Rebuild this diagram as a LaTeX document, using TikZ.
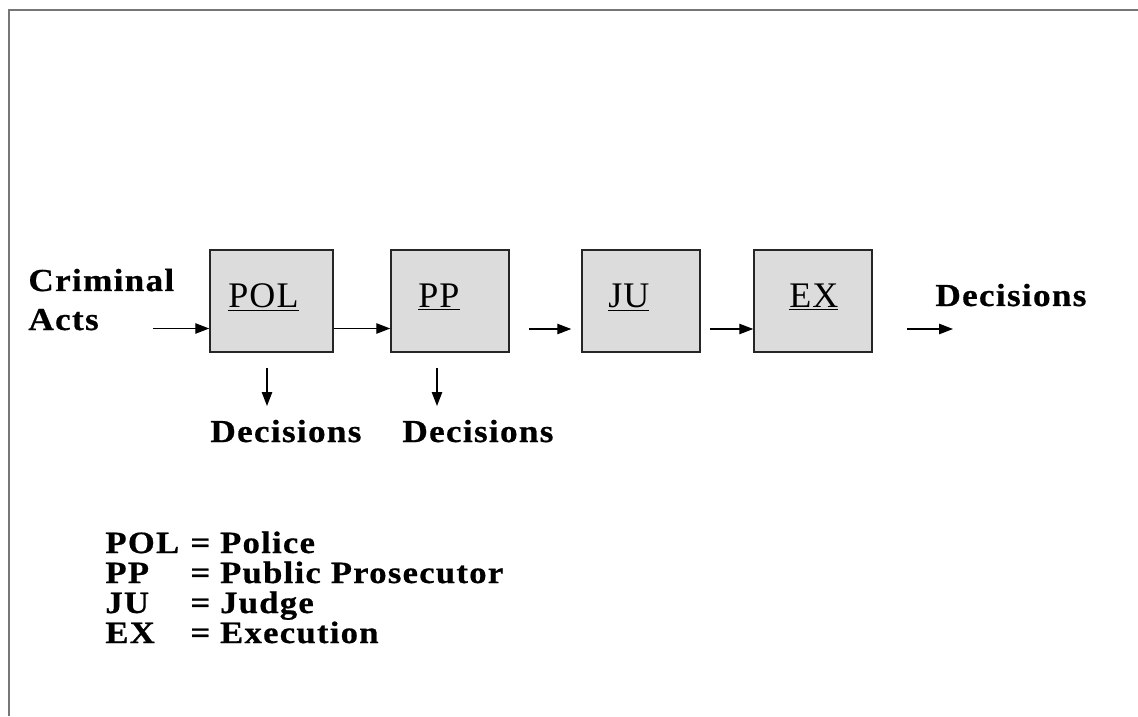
\documentclass[tikz,border=0pt]{standalone}
\usepackage{fontspec}
\setmainfont{Liberation Serif}
\newfontfamily\hdfont[LetterSpace=4,FakeStretch=1.1,FakeBold=0.6]{Liberation Serif}
\newfontfamily\lgfont[LetterSpace=4,FakeStretch=1.12,FakeBold=0.6]{Liberation Serif}
\newfontfamily\bxfont[LetterSpace=3]{Liberation Serif}
\usetikzlibrary{arrows.meta}
\definecolor{boxgray}{HTML}{DCDCDC}
\definecolor{framegray}{HTML}{767676}
\begin{document}
\begin{tikzpicture}[x=0.5pt,y=-0.5pt,
  stagebox/.style={draw=black!85, line width=0.75pt, fill=boxgray, minimum height=51pt, inner sep=0pt},
  boxlabel/.style={anchor=base west, inner sep=0pt, font=\bxfont\fontsize{18}{21}\selectfont},
  headtext/.style={anchor=base west, inner sep=0pt, font=\hdfont\bfseries\fontsize{16}{19}\selectfont},
  legtext/.style={anchor=base west, inner sep=0pt, font=\lgfont\bfseries\fontsize{15.5}{18}\selectfont},
  flow/.style={line width=0.7pt, -{Triangle[length=7pt,width=5.2pt]}}]
\useasboundingbox (0,0) rectangle (1138,716);
% frame
\draw[framegray, line width=1pt] (9,716) -- (9,10.5) -- (1138,10.5);
% boxes
\node[stagebox, minimum width=61.5pt] (pol) at (271.5,301) {};
\node[stagebox, minimum width=59pt] (pp) at (450,301) {};
\node[stagebox, minimum width=59pt] (ju) at (641,301) {};
\node[stagebox, minimum width=59pt] (ex) at (813,301) {};
\node[boxlabel] (polL) at (228,307) {\underline{POL}};
\node[boxlabel] (ppL) at (418,307) {\underline{PP}};
\node[boxlabel] (juL) at (608,307) {\underline{JU}};
\node[boxlabel] (exL) at (789,307) {\underline{EX}};
% texts
\node[headtext] (crim) at (28,291) {Criminal};
\node[headtext] (acts) at (28,330) {Acts};
\node[headtext] (decA) at (210,442) {Decisions};
\node[headtext] (decB) at (402,442) {Decisions};
\node[headtext] (decC) at (935,306) {Decisions};
% connectors
\coordinate (inS) at (153,328.5);
\coordinate (outS) at (907,329);
\coordinate (outE) at (953,329);
\coordinate (dAs) at (267,368);
\coordinate (dAe) at (267,406);
\coordinate (dBs) at (437,368);
\coordinate (dBe) at (437,406);
\draw[flow] (inS) -- (inS -| pol.west);
\draw[flow] (pol.east |- inS) -- (pp.west |- inS);
\draw[flow, shorten <=9.5pt, shorten >=5pt] (pp.east |- outS) -- (ju.west |- outS);
\draw[flow, shorten <=4.5pt] (ju.east |- outS) -- (ex.west |- outS);
\draw[flow] (outS) -- (outE);
\draw[flow] (dAs) -- (dAe);
\draw[flow] (dBs) -- (dBe);
% legend
\node[legtext] (l1a) at (105,553) {POL};
\node[legtext] (l1b) at (190,553) {= Police};
\node[legtext] (l2a) at (105,583) {PP};
\node[legtext] (l2b) at (190,583) {= Public Prosecutor};
\node[legtext] (l3a) at (105,613) {JU};
\node[legtext] (l3b) at (190,613) {= Judge};
\node[legtext] (l4a) at (105,643) {EX};
\node[legtext] (l4b) at (190,643) {= Execution};
\end{tikzpicture}
\end{document}
